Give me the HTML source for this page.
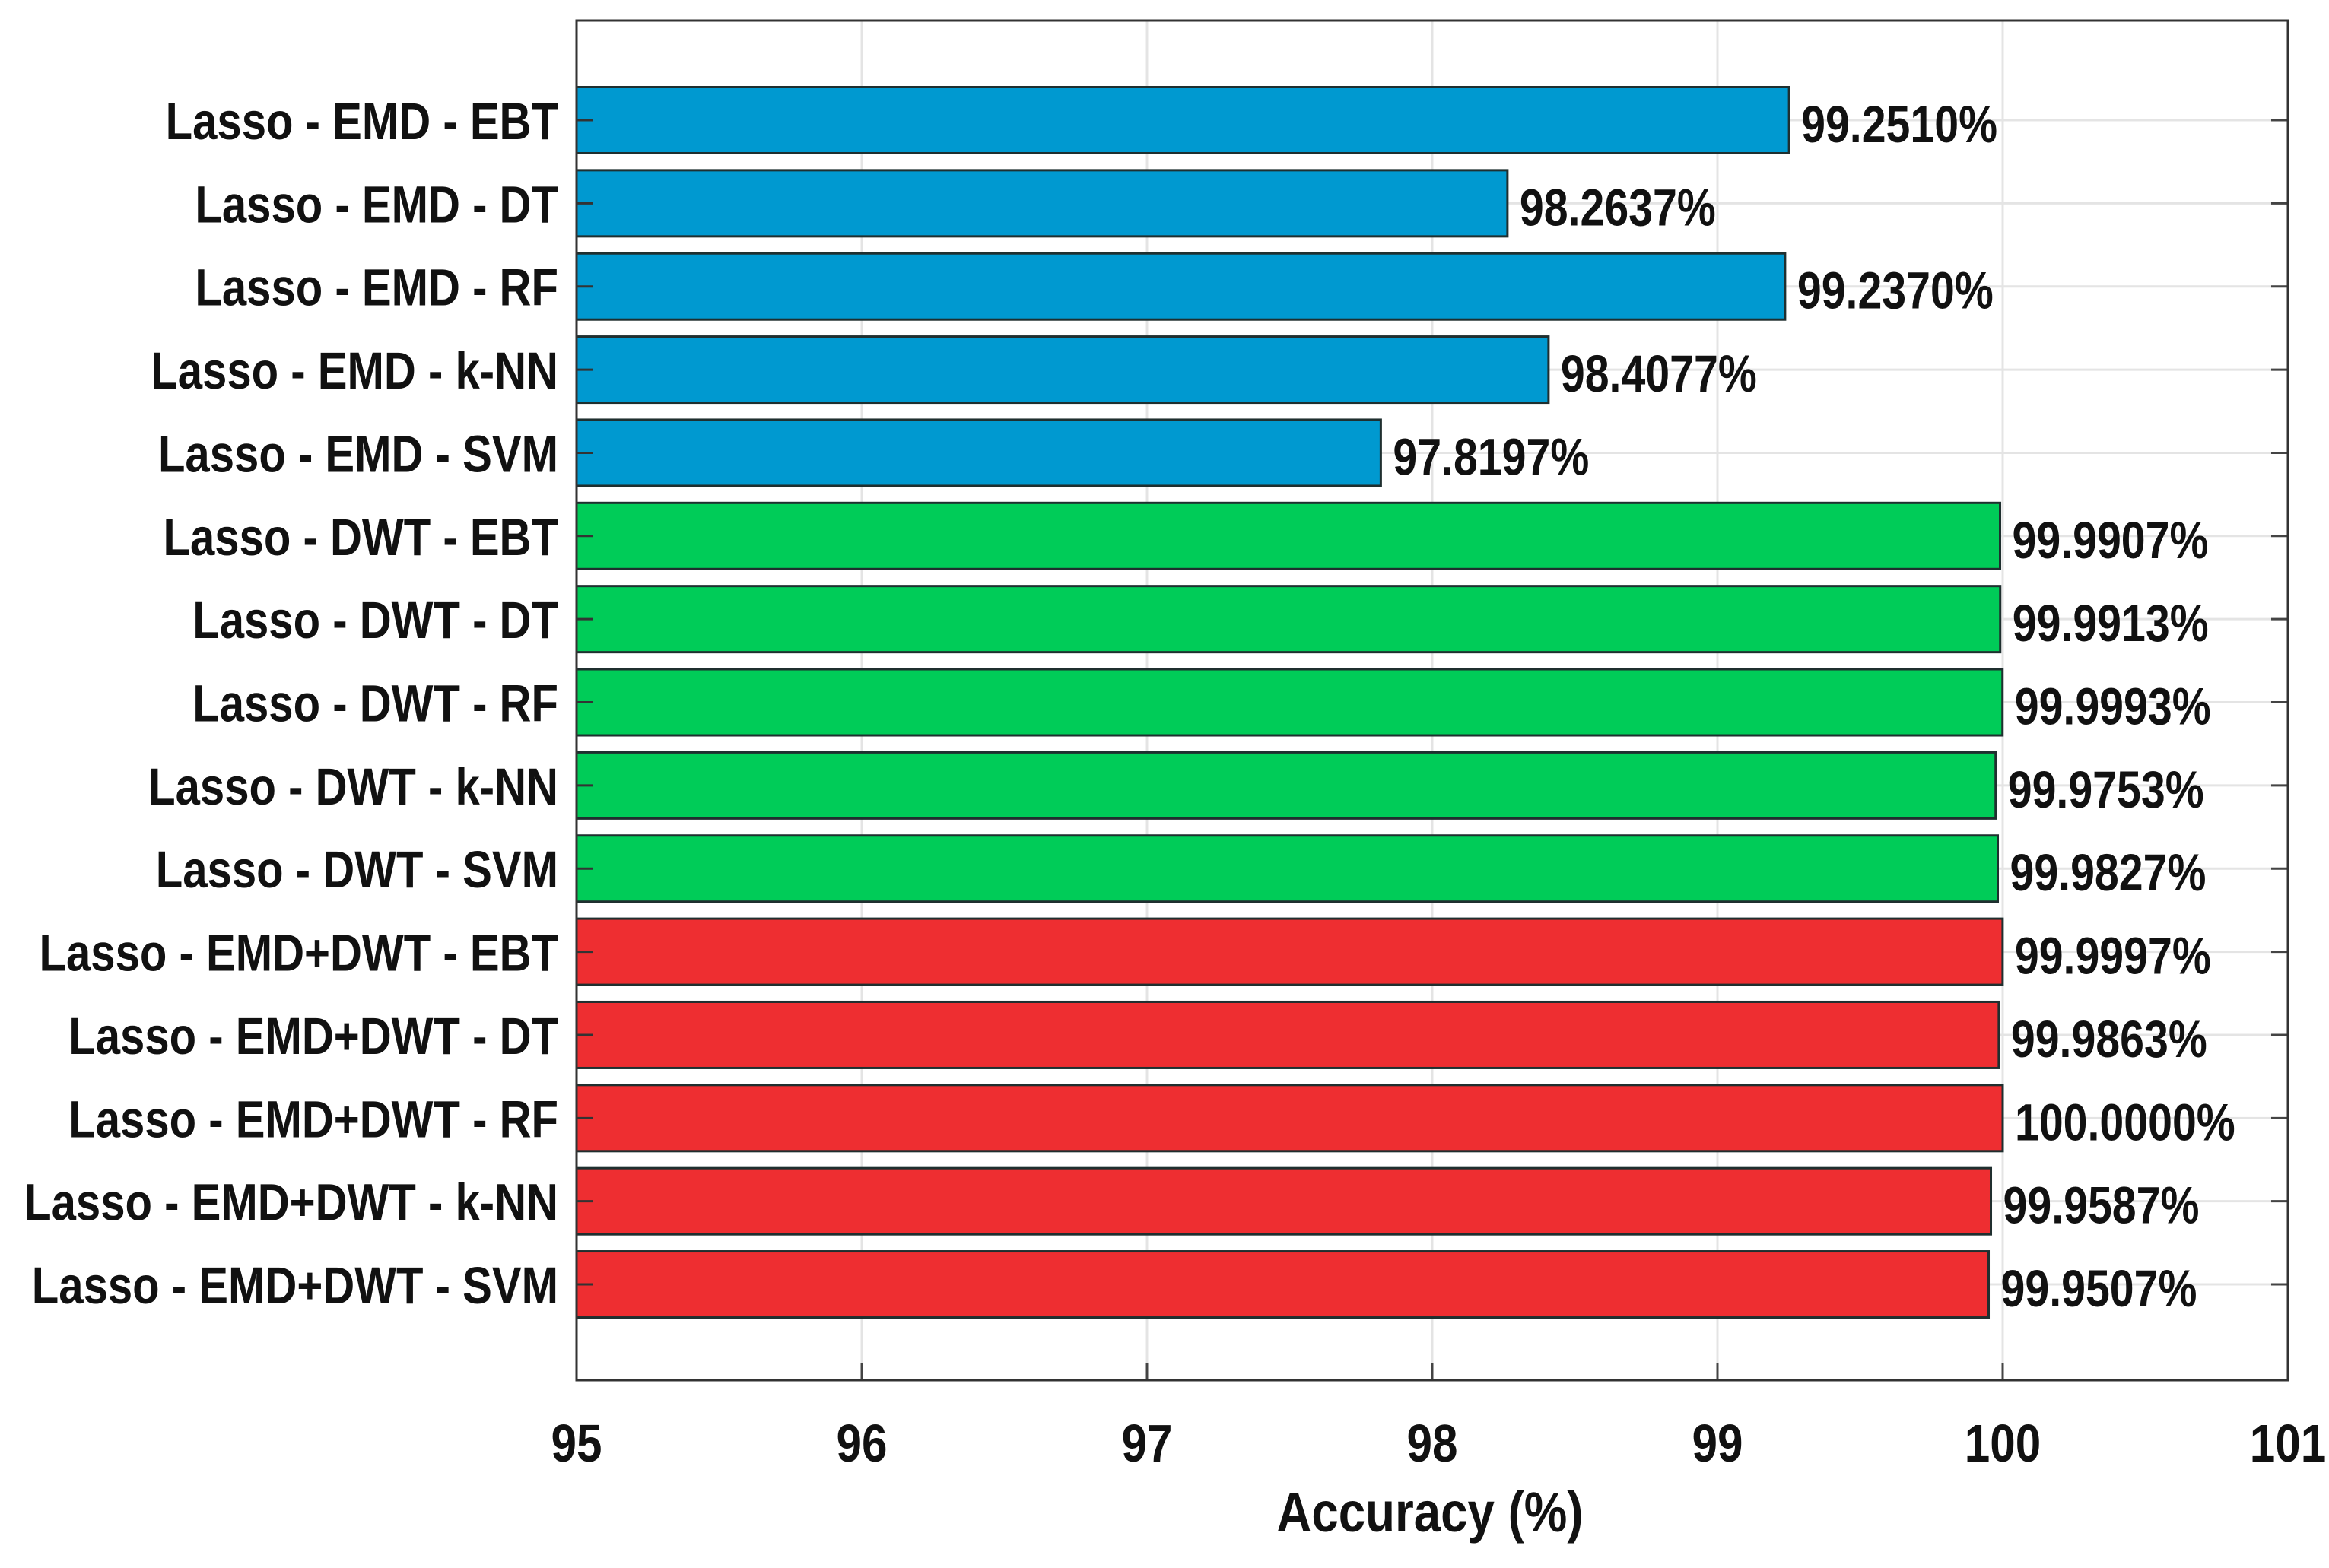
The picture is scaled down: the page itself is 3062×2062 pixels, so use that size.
<!DOCTYPE html>
<html><head><meta charset="utf-8"><style>
html,body{margin:0;padding:0;background:#fff;}
svg{display:block;}
text{font-family:"Liberation Sans Narrow","Liberation Sans",sans-serif;font-weight:bold;fill:#111;}
</style></head><body>
<svg id="chart" width="3062" height="2062" viewBox="0 0 3062 2062" xmlns="http://www.w3.org/2000/svg">
<rect x="0" y="0" width="3062" height="2062" fill="#fff"/>
<g id="grid"></g>
<g id="bars"></g>
<g id="labels"></g>
<rect x="758" y="27" width="2250" height="1788" fill="none" stroke="#333" stroke-width="3"/>
<text x="1880" y="2014" font-size="74" text-anchor="middle" transform="translate(1880,0) scale(0.86,1) translate(-1880,0)">Accuracy (%)</text>
</svg>
<script>
const categories = ["Lasso - EMD - EBT","Lasso - EMD - DT","Lasso - EMD - RF","Lasso - EMD - k-NN","Lasso - EMD - SVM","Lasso - DWT - EBT","Lasso - DWT - DT","Lasso - DWT - RF","Lasso - DWT - k-NN","Lasso - DWT - SVM","Lasso - EMD+DWT - EBT","Lasso - EMD+DWT - DT","Lasso - EMD+DWT - RF","Lasso - EMD+DWT - k-NN","Lasso - EMD+DWT - SVM"];
const values = [99.2510,98.2637,99.2370,98.4077,97.8197,99.9907,99.9913,99.9993,99.9753,99.9827,99.9997,99.9863,100.0000,99.9587,99.9507];
const valueLabels = ["99.2510%","98.2637%","99.2370%","98.4077%","97.8197%","99.9907%","99.9913%","99.9993%","99.9753%","99.9827%","99.9997%","99.9863%","100.0000%","99.9587%","99.9507%"];
const groups = ["EMD","EMD","EMD","EMD","EMD","DWT","DWT","DWT","DWT","DWT","EMD+DWT","EMD+DWT","EMD+DWT","EMD+DWT","EMD+DWT"];
const xTicks = [95,96,97,98,99,100,101];

const NS="http://www.w3.org/2000/svg";
const L=758,R=3008,T=27,B=1815;
const xMin=95,xMax=101;
const colors={"EMD":"#0099d0","DWT":"#00cc58","EMD+DWT":"#ee2e31"};
function xs(v){return L+(v-xMin)/(xMax-xMin)*(R-L);}
function ys(i){return 158+i*109.36;}
const barH=87;
function mk(tag,attrs,parent){const e=document.createElementNS(NS,tag);for(const k in attrs)e.setAttribute(k,attrs[k]);parent.appendChild(e);return e;}
const grid=document.getElementById('grid'),bars=document.getElementById('bars'),labels=document.getElementById('labels');

xTicks.forEach(t=>{
  const x=xs(t);
  const g=mk('line',{x1:x,x2:x,y1:T,y2:B,stroke:'#e4e4e4','stroke-width':3},grid);
  
  
  const tk=mk('line',{x1:x,x2:x,y1:B,y2:B-22,stroke:'#444','stroke-width':3},grid);
  
  
  const tx=mk('text',{x:x,y:1922,'font-size':70,'text-anchor':'middle',transform:`translate(${x},0) scale(0.86,1) translate(${-x},0)`},labels);
  tx.textContent=t;
  
  
});
categories.forEach((c,i)=>{
  const y=ys(i);
  const g=mk('line',{x1:L,x2:R,y1:y,y2:y,stroke:'#e4e4e4','stroke-width':3},grid);
  
  
  const tk=mk('line',{x1:R,x2:R-22,y1:y,y2:y,stroke:'#444','stroke-width':3},grid);
  
  
  const x1=xs(values[i]);
  const b=mk('rect',{x:L,y:y-barH/2,width:x1-L,height:barH,fill:colors[groups[i]],stroke:'#1f2f2f','stroke-width':3},bars);
  
  
  const lt=mk('line',{x1:L,x2:L+22,y1:y,y2:y,stroke:'#333','stroke-width':3},bars);
  
  
  const cl=mk('text',{x:734,y:y+25,'font-size':69,'text-anchor':'end',transform:`translate(734,0) scale(0.842,1) translate(-734,0)`},labels);
  cl.textContent=c;
  
  
  const vx=x1+16;
  const vl=mk('text',{x:vx,y:y+29,'font-size':69,'text-anchor':'start',transform:`translate(${vx},0) scale(0.83,1) translate(${-vx},0)`},labels);
  vl.textContent=valueLabels[i];
  
  
});
</script>
</body></html>
